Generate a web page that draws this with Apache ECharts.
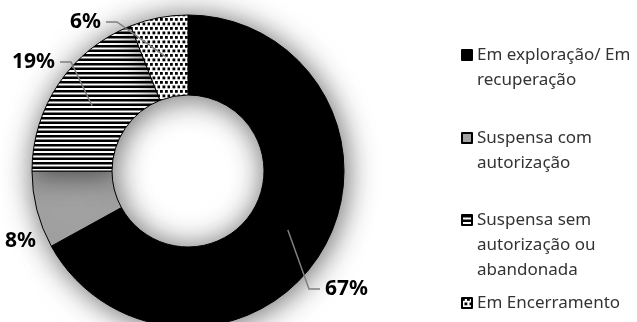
<!DOCTYPE html>
<html>
<head>
<meta charset="utf-8">
<script src="https://cdn.jsdelivr.net/npm/echarts@6/dist/echarts.min.js"></script>
<style>
  html, body { margin: 0; padding: 0; background: #fff; }
  #chart { width: 637px; height: 322px; }
</style>
</head>
<body>
<div id="chart"></div>
<script>
// Situation of the units, share of the total (%)
const categories = [
  'Em exploração/ Em\nrecuperação',
  'Suspensa com\nautorização',
  'Suspensa sem\nautorização ou\nabandonada',
  'Em Encerramento'
];
const values = [67, 8, 19, 6];

// Label placement: [x, y, align] of each percentage label
const labelSpots = [
  [325, 289, 'left'],
  [36, 241, 'right'],
  [55, 62, 'right'],
  [101, 22, 'right']
];
// first-line centre of each legend entry
const legendRows = [55, 138, 220, 303];
const LEGEND_LINE = 25;

function makePattern(w, h, paint) {
  const c = document.createElement('canvas');
  c.width = w; c.height = h;
  const ctx = c.getContext('2d');
  ctx.fillStyle = '#fff';
  ctx.fillRect(0, 0, w, h);
  ctx.fillStyle = '#000';
  paint(ctx);
  return { image: c, repeat: 'repeat' };
}

const stripes = makePattern(4, 9, ctx => {
  ctx.fillRect(0, 0, 4, 2.5);
  ctx.fillRect(0, 4.5, 4, 2.5);
});
const dots = makePattern(10, 9, ctx => {
  ctx.fillRect(0, 0, 2.8, 2.8);
  ctx.fillRect(5, 0, 2.8, 2.8);
  ctx.fillRect(2.5, 4.5, 2.8, 2.8);
  ctx.fillRect(7.5, 4.5, 2.8, 2.8);
});
const fills = ['#000000', '#a3a3a3', stripes, dots];

const center = [188, 171];
const ringRadius = [76, 156];
const midRadius = 116;

const chart = echarts.init(document.getElementById('chart'), null, { renderer: 'canvas' });

// one legend block per entry; blank lines on top keep the icon on the first text line
const legends = categories.map((name, i) => {
  const lines = name.split('\n').length;
  return {
    data: [name],
    orient: 'vertical',
    left: 461,
    top: legendRows[i] - (2 * lines - 1) * LEGEND_LINE / 2,
    padding: 0,
    itemWidth: 10,
    itemHeight: 10,
    icon: 'rect',
    selectedMode: false,
    formatter: n => '\n'.repeat(lines - 1) + n,
    textStyle: {
      fontFamily: 'Noto Sans',
      fontSize: 17,
      color: '#333333',
      lineHeight: LEGEND_LINE
    }
  };
});

chart.setOption({
  animation: false,
  backgroundColor: '#fff',
  legend: legends,
  series: [
    {
      name: 'Situação',
      type: 'pie',
      z: 3,
      center: center,
      radius: ringRadius,
      startAngle: 90,
      clockwise: true,
      silent: true,
      label: { show: false },
      labelLine: { show: false },
      itemStyle: {
        borderColor: '#000',
        borderWidth: 1,
        shadowColor: 'rgba(0,0,0,0.6)',
        shadowBlur: 30,
        shadowOffsetX: 2,
        shadowOffsetY: 2
      },
      data: categories.map((name, i) => ({
        name: name,
        value: values[i],
        itemStyle: { color: fills[i] }
      }))
    },
    {
      // percentage labels with leader lines starting mid-ring
      type: 'pie',
      z: 4,
      center: center,
      radius: [0, midRadius],
      startAngle: 90,
      clockwise: true,
      silent: true,
      itemStyle: { color: 'rgba(0,0,0,0)' },
      label: {
        show: true,
        position: 'outside',
        formatter: '{c}%',
        fontFamily: 'Noto Sans',
        fontWeight: 'bold',
        fontSize: 21,
        color: '#000'
      },
      labelLine: {
        show: true,
        length: 20,
        length2: 10,
        lineStyle: { color: '#7f7f7f', width: 1.5 }
      },
      labelLayout: function (params) {
        const spot = labelSpots[params.dataIndex];
        const res = { x: spot[0], y: spot[1], align: spot[2], verticalAlign: 'middle' };
        const pts = params.labelLinePoints;
        if (pts && pts[0]) {
          const edge = spot[2] === 'left' ? spot[0] - 5 : spot[0] + 5;
          const knee = spot[2] === 'left' ? edge - 11 : edge + 11;
          res.labelLinePoints = [pts[0], [knee, spot[1]], [edge, spot[1]]];
        }
        return res;
      },
      data: categories.map((name, i) => ({
        name: name,
        value: values[i],
        labelLine: { show: i !== 1 }
      }))
    }
  ]
});
</script>
</body>
</html>
